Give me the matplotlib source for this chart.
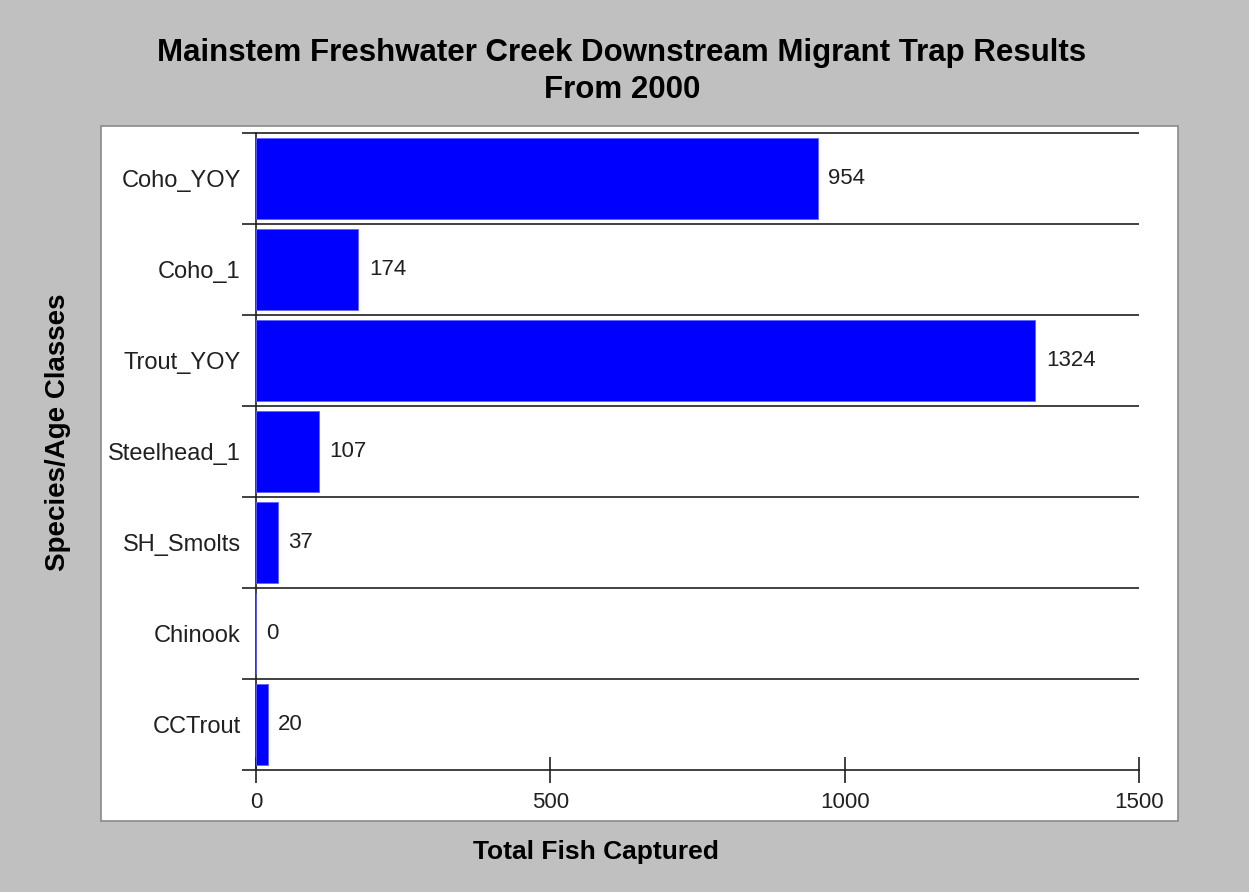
import matplotlib
matplotlib.use("Agg")
import matplotlib.pyplot as plt
from matplotlib.patches import Rectangle
import numpy as np

plt.rcParams['font.family'] = ['Liberation Sans', 'DejaVu Sans']

categories = ["Coho_YOY", "Coho_1", "Trout_YOY", "Steelhead_1", "SH_Smolts", "Chinook", "CCTrout"]
values = [954, 174, 1324, 107, 37, 0, 20]
xticks = [0, 500, 1000, 1500]

W, H = 1249, 892
fig = plt.figure(figsize=(W / 100, H / 100), dpi=100)
fig.patch.set_facecolor('#C0C0C0')

# white panel
panel = Rectangle((101 / W, 1 - 821 / H), (1178 - 101) / W, (821 - 126) / H,
                  transform=fig.transFigure, facecolor='white', edgecolor='#8a8a8a',
                  linewidth=1.2, zorder=-5)
fig.patches.append(panel)

ax = fig.add_axes([256 / W, 1 - 770 / H, (1139 - 256) / W, (770 - 133) / H])
ax.set_zorder(2)
ax.set_facecolor('white')

n = len(categories)
y = np.arange(n)
ax.barh(y, values, height=0.88, color='#0000FF', edgecolor='#6060ff', linewidth=0.6, zorder=3)

ax.set_xlim(0, 1500)
ax.set_ylim(n - 0.5, -0.5)

for yi, v in zip(y, values):
    ax.text(v + 18, yi, str(v), va='center', ha='left', fontsize=16, color='#202020')

# category boundary lines
bounds = np.arange(n + 1) - 0.5
ax.hlines(bounds[:-1], 0, 1500, colors='#202020', linewidth=1.2, zorder=1, clip_on=False)

# y ticks: boundaries major, labels at centers
ax.set_yticks(bounds)
ax.set_yticklabels([])
ax.tick_params(axis='y', which='major', length=10, width=1.2, direction='out', color='#202020')
ax.set_yticks(y, minor=True)
ax.set_yticklabels(categories, minor=True, fontsize=17, color='#202020')
ax.tick_params(axis='y', which='minor', length=0, pad=11)

ax.set_xticks(xticks)
ax.set_xticklabels([str(t) for t in xticks], fontsize=16, color='#202020')
ax.tick_params(axis='x', length=19, width=1.2, direction='inout', color='#202020', pad=6)

for s in ['top', 'right']:
    ax.spines[s].set_visible(False)
for s in ['left', 'bottom']:
    ax.spines[s].set_color('#202020')
    ax.spines[s].set_linewidth(1.2)

fig.text(622 / W, 1 - 53 / H, "Mainstem Freshwater Creek Downstream Migrant Trap Results",
         ha='center', va='center', fontsize=22.5, fontweight='bold', color='black')
fig.text(622 / W, 1 - 90 / H, "From 2000",
         ha='center', va='center', fontsize=22.5, fontweight='bold', color='black')
fig.text(596 / W, 1 - 852 / H, "Total Fish Captured",
         ha='center', va='center', fontsize=19, fontweight='bold', color='black')
fig.text(58 / W, 1 - 432 / H, "Species/Age Classes", rotation=90,
         ha='center', va='center', fontsize=20, fontweight='bold', color='black')

fig.savefig("out.png", dpi=100, facecolor=fig.get_facecolor())
